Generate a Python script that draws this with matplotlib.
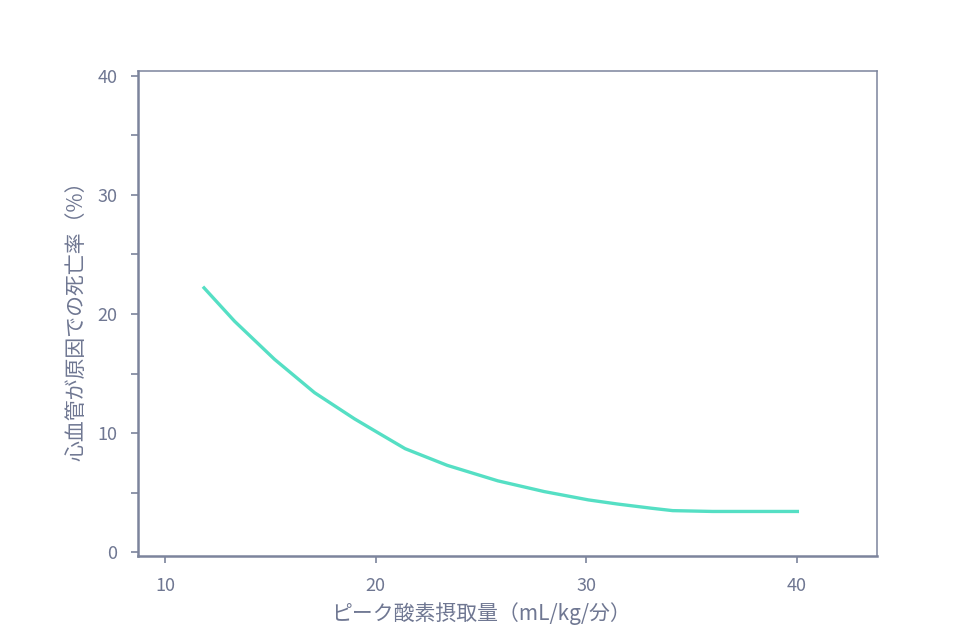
import matplotlib
matplotlib.use("Agg")
import matplotlib.pyplot as plt
from matplotlib.ticker import MultipleLocator

plt.rcParams["font.family"] = ["Noto Sans CJK JP", "DejaVu Sans"]

# curve: peak VO2 (mL/kg/min) vs CV death rate (%)
peak_vo2 = [11.8, 13.3, 15.2, 17.1, 19.0, 20.1, 21.4, 23.4, 25.8, 28.0,
            30.1, 31.5, 33.1, 34.1, 36.0, 40.1]
death_rate = [22.3, 19.4, 16.2, 13.4, 11.2, 10.05, 8.7, 7.3, 6.0, 5.1,
              4.4, 4.05, 3.7, 3.5, 3.43, 3.43]

x_ticks = [10, 20, 30, 40]
y_ticks = [0, 10, 20, 30, 40]

AXIS_COLOR = "#7c849c"
TEXT_COLOR = "#6f7792"
LINE_COLOR = "#55dfc4"

fig = plt.figure(figsize=(9.6, 6.38), dpi=100)
ax = fig.add_axes([0.1438, 0.1285, 0.7697, 0.7602])

ax.plot(peak_vo2, death_rate, color=LINE_COLOR, lw=2.4,
        solid_capstyle="butt", solid_joinstyle="round")

ax.set_xlim(8.72, 43.8)
ax.set_ylim(-0.31, 40.4)
ax.set_xticks(x_ticks)
ax.set_yticks(y_ticks)
ax.yaxis.set_minor_locator(MultipleLocator(5))

for side, s in ax.spines.items():
    s.set_color(AXIS_COLOR)
    s.set_linewidth(1.8 if side in ("left", "bottom") else 1.1)

ax.tick_params(axis="both", which="both", direction="out", color=AXIS_COLOR,
               labelcolor=TEXT_COLOR, labelsize=13, width=1.2)
ax.tick_params(axis="both", which="major", length=5, pad=10)
ax.tick_params(axis="y", which="minor", length=5)

ax.set_xlabel("ピーク酸素摂取量（mL/kg/分）", fontsize=15, color=TEXT_COLOR)
ax.set_ylabel("心血管が原因での死亡率（%）", fontsize=15, color=TEXT_COLOR)
ax.xaxis.set_label_coords(0.464, -0.095)
ax.yaxis.set_label_coords(-0.069, 0.495)

fig.savefig("out.png", dpi=100)
